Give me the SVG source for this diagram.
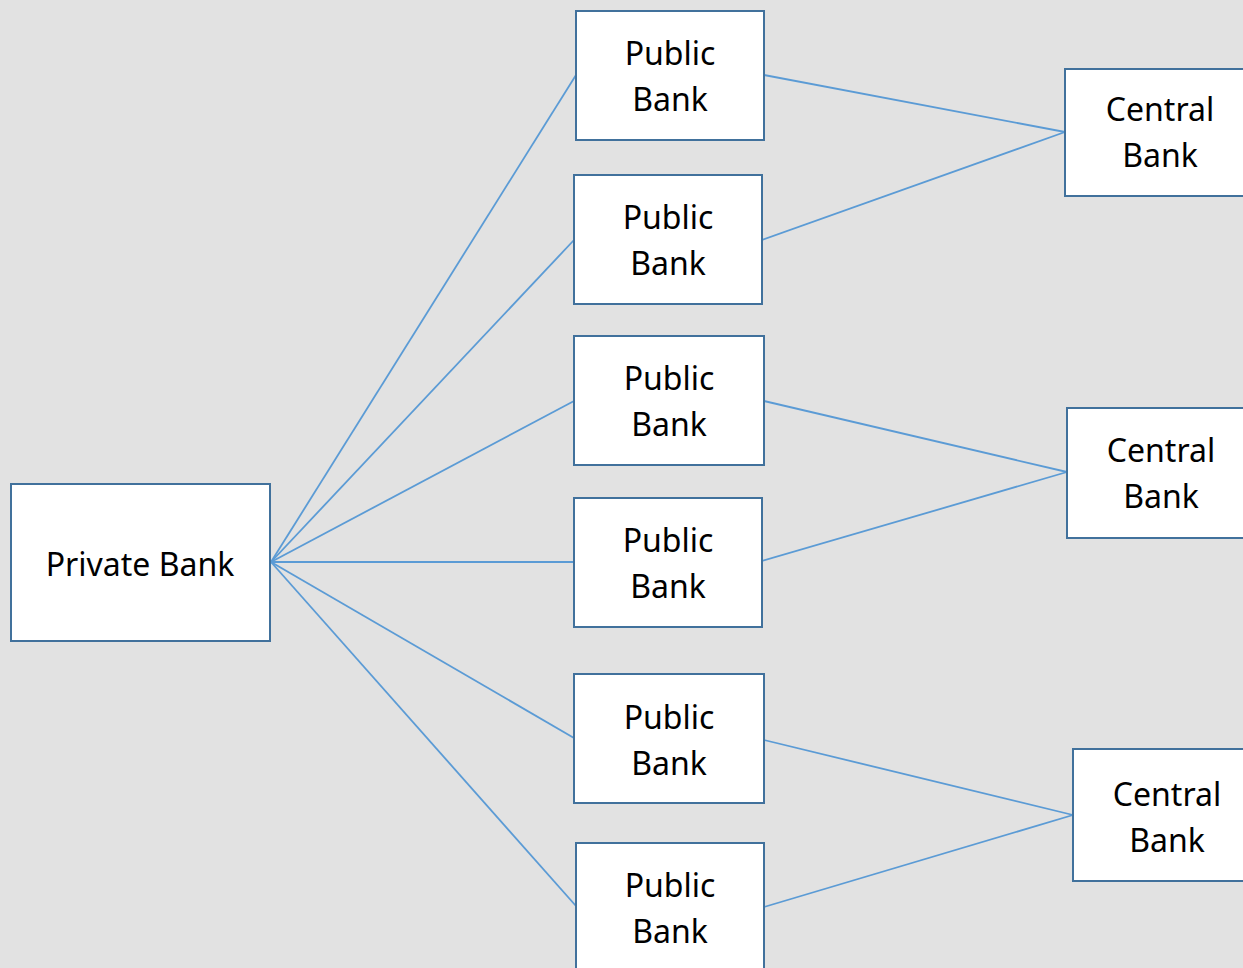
<svg xmlns="http://www.w3.org/2000/svg" width="1243" height="968" viewBox="0 0 1243 968">
<style>
.box{fill:#ffffff;stroke:#41719c;stroke-width:2}
.lbl{font-family:"Noto Sans","Open Sans",sans-serif;font-size:32px;fill:#000;text-anchor:middle}
.con{stroke:#5b9bd5;stroke-width:1.8;fill:none}
</style>
<rect x="0" y="0" width="1243" height="968" fill="#e2e2e2"/>
<g id="connectors">
<line class="con" x1="271" y1="562" x2="576" y2="75"/>
<line class="con" x1="271" y1="562" x2="574" y2="240"/>
<line class="con" x1="271" y1="562" x2="574" y2="401"/>
<line class="con" x1="271" y1="562" x2="574" y2="562"/>
<line class="con" x1="271" y1="562" x2="574" y2="738"/>
<line class="con" x1="271" y1="562" x2="576" y2="906"/>
<line class="con" x1="764" y1="75" x2="1065" y2="132"/>
<line class="con" x1="762" y1="240" x2="1065" y2="132"/>
<line class="con" x1="764" y1="401" x2="1067" y2="472"/>
<line class="con" x1="762" y1="561" x2="1067" y2="472"/>
<line class="con" x1="764" y1="740" x2="1073" y2="815"/>
<line class="con" x1="764" y1="907" x2="1073" y2="815"/>
</g>
<g id="private">
<rect class="box" x="11" y="484" width="259" height="157"/>
<text class="lbl" x="140" y="576">Private Bank</text>
</g>
<g id="public1">
<rect class="box" x="576" y="11" width="188" height="129"/>
<text class="lbl" x="670" y="65">Public</text>
<text class="lbl" x="670" y="111">Bank</text>
</g>
<g id="public2">
<rect class="box" x="574" y="175" width="188" height="129"/>
<text class="lbl" x="668" y="229">Public</text>
<text class="lbl" x="668" y="275">Bank</text>
</g>
<g id="public3">
<rect class="box" x="574" y="336" width="190" height="129"/>
<text class="lbl" x="669" y="390">Public</text>
<text class="lbl" x="669" y="436">Bank</text>
</g>
<g id="public4">
<rect class="box" x="574" y="498" width="188" height="129"/>
<text class="lbl" x="668" y="552">Public</text>
<text class="lbl" x="668" y="598">Bank</text>
</g>
<g id="public5">
<rect class="box" x="574" y="674" width="190" height="129"/>
<text class="lbl" x="669" y="729">Public</text>
<text class="lbl" x="669" y="775">Bank</text>
</g>
<g id="public6">
<rect class="box" x="576" y="843" width="188" height="130"/>
<text class="lbl" x="670" y="897">Public</text>
<text class="lbl" x="670" y="943">Bank</text>
</g>
<g id="central1">
<rect class="box" x="1065" y="69" width="190" height="127"/>
<text class="lbl" x="1160" y="121">Central</text>
<text class="lbl" x="1160" y="167">Bank</text>
</g>
<g id="central2">
<rect class="box" x="1067" y="408" width="190" height="130"/>
<text class="lbl" x="1161" y="462">Central</text>
<text class="lbl" x="1161" y="508">Bank</text>
</g>
<g id="central3">
<rect class="box" x="1073" y="749" width="190" height="132"/>
<text class="lbl" x="1167" y="806">Central</text>
<text class="lbl" x="1167" y="852">Bank</text>
</g>
</svg>
